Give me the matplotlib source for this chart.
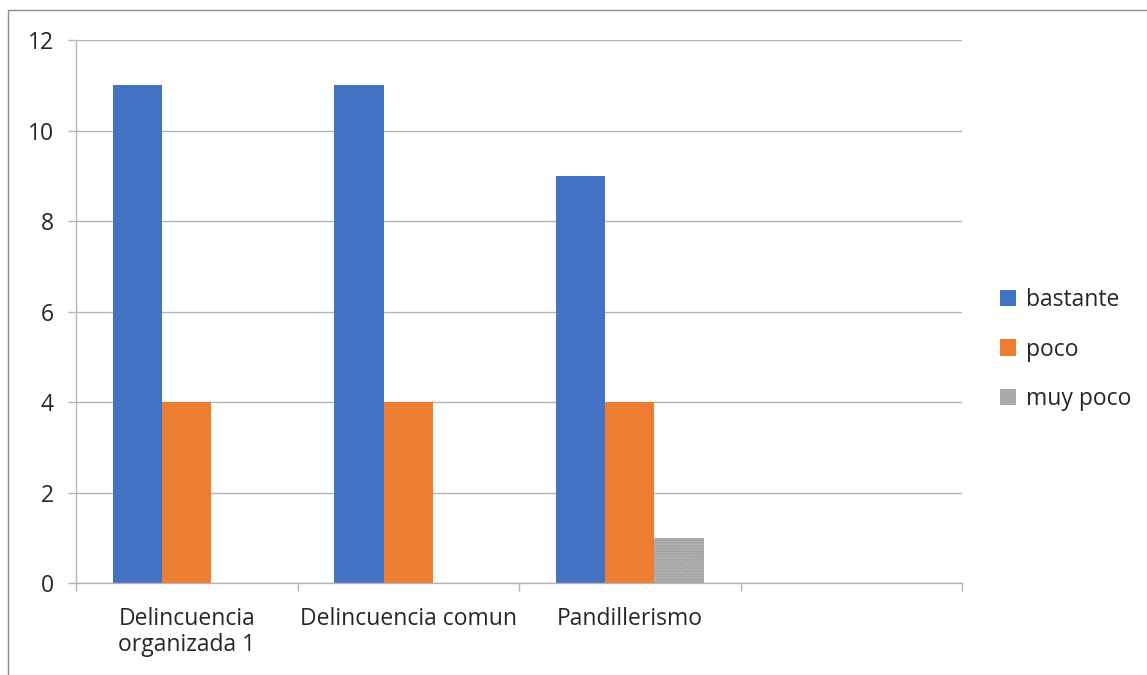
import matplotlib
matplotlib.use("Agg")
import matplotlib.pyplot as plt
import numpy as np
from matplotlib.patches import Rectangle

# category labels (last slot left empty) and series values
categories = ["Delincuencia\norganizada 1", "Delincuencia comun", "Pandillerismo", ""]
bastante = [11, 11, 9, np.nan]
poco = [4, 4, 4, np.nan]
muy_poco = [np.nan, np.nan, 1, np.nan]

series_names = ["bastante", "poco", "muy poco"]
series_colors = ["#4472C4", "#ED7D31", "#A5A5A5"]

plt.rcParams["font.family"] = ["Open Sans", "DejaVu Sans"]
plt.rcParams["hatch.linewidth"] = 0.6

W, H = 1147, 675
fs = 16.5
fig = plt.figure(figsize=(W / 100, H / 100), dpi=100)

# outer chart frame, only top and left edges visible
fig.patches.append(Rectangle((8 / W, -0.1), 1.2, (H - 10) / H + 0.1,
                             transform=fig.transFigure, fill=False,
                             edgecolor="#8C8C8C", linewidth=1.0))

ax = fig.add_axes([76 / W, 92 / H, (962 - 76) / W, (583 - 40) / H])

x = np.arange(len(categories))
width = 0.222
ax.bar(x - width, bastante, width, color=series_colors[0], label=series_names[0])
ax.bar(x, poco, width, color=series_colors[1], label=series_names[1])
ax.bar(x + width, muy_poco, width, color=series_colors[2], label=series_names[2],
       hatch="......", edgecolor="#BDBDBD", linewidth=0)

ax.set_xlim(-0.5, len(categories) - 0.5)
ax.set_ylim(0, 12)
ax.set_yticks(np.arange(0, 13, 2))
ax.yaxis.grid(True, color="#B4B4B4", linewidth=1.0)
ax.set_axisbelow(True)

# boundary ticks between categories, labels at centers
ax.set_xticks(np.arange(len(categories) + 1) - 0.5)
ax.set_xticklabels([])
ax.set_xticks(x, minor=True)
ax.set_xticklabels(categories, minor=True, fontsize=fs, color="#262626",
                   linespacing=1.15)
ax.tick_params(axis="x", which="major", length=6, width=1.0, color="#B4B4B4")
ax.tick_params(axis="x", which="minor", length=0, pad=17)
ax.tick_params(axis="y", length=6, width=1.0, color="#B4B4B4",
               labelsize=fs, labelcolor="#262626", pad=10)

for side in ("top", "right"):
    ax.spines[side].set_visible(False)
for side in ("left", "bottom"):
    ax.spines[side].set_color("#B4B4B4")
    ax.spines[side].set_linewidth(1.0)

ax.legend(loc="center left", bbox_to_anchor=(1.02, 0.43), frameon=False,
          fontsize=fs, handlelength=0.7, handleheight=0.7, handletextpad=0.4,
          labelspacing=1.1, labelcolor="#262626")

fig.savefig("out.png", dpi=100, facecolor="white")
